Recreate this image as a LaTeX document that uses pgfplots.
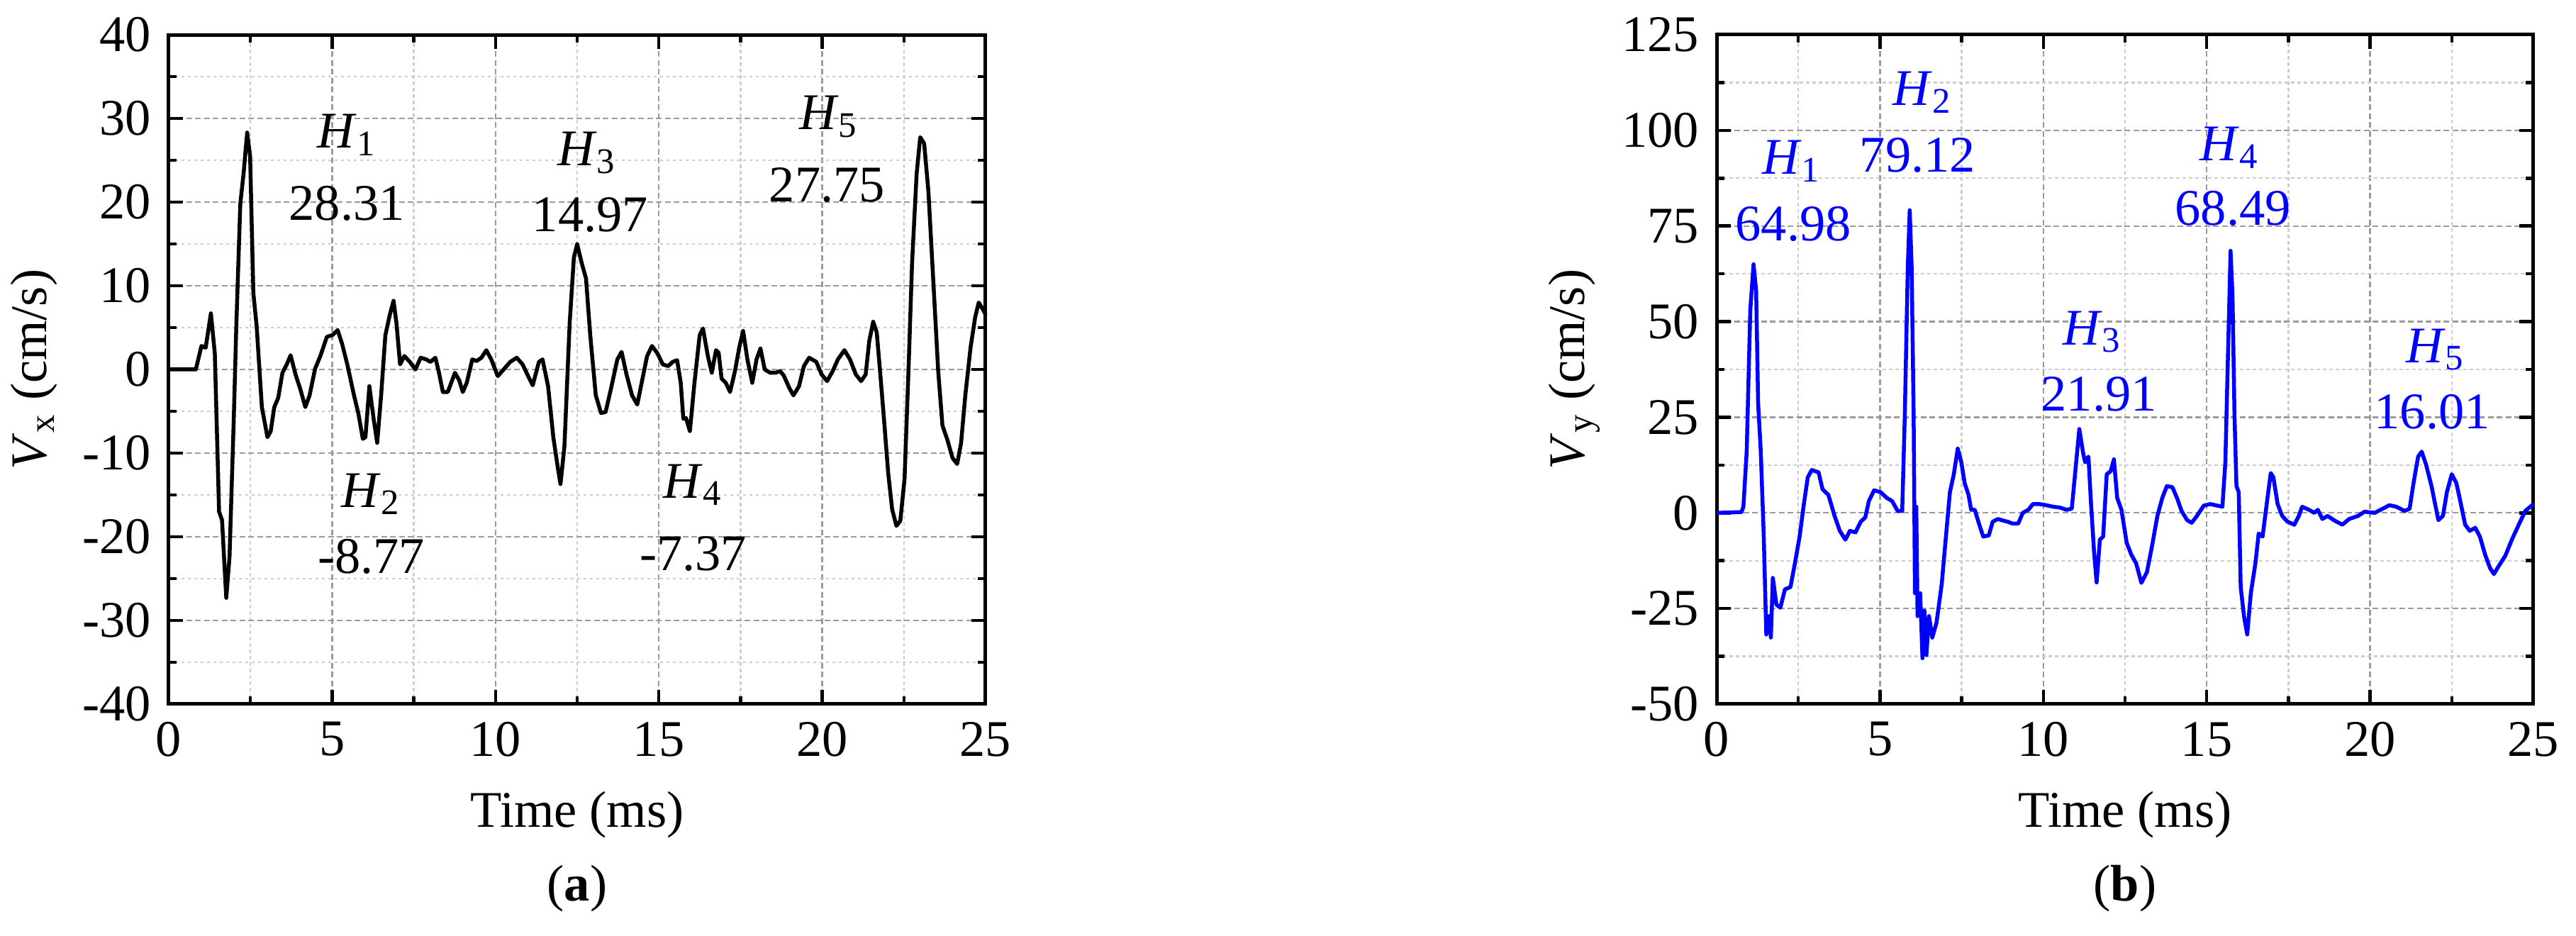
\documentclass[border=0pt]{standalone}
\usepackage{fontspec}
\setmainfont{Liberation Serif}
\usepackage{pgfplots}
\pgfplotsset{compat=1.18}
\definecolor{majgrid}{RGB}{155,155,155}
\definecolor{mingrid}{RGB}{205,205,205}
\definecolor{pblue}{RGB}{0,0,255}
\pgfplotsset{myax/.style={
  scale only axis, width=230.4pt, height=188.8pt,
  xmin=0, xmax=25, xtick={0,5,...,25}, minor x tick num=1,
  minor y tick num=1,
  tick align=inside, major tick length=4pt, minor tick length=2.2pt,
  every tick/.style={line width=0.9pt, black},
  axis line style={line width=1pt},
  grid=both,
  major grid style={line width=0.45pt, majgrid, dash pattern=on 1.6pt off 0.9pt},
  minor grid style={line width=0.45pt, mingrid, dash pattern=on 0.9pt off 0.9pt},
  /pgf/number format/assume math mode=true,
  tick label style={font=\fontsize{14.5pt}{17pt}\selectfont},
  label style={font=\fontsize{14.5pt}{17pt}\selectfont},
  xlabel={Time (ms)},
  clip=false,
}}
\begin{document}
\fontsize{14.5pt}{17pt}\selectfont
\begin{tikzpicture}
\path[use as bounding box] (-47.6pt,-65.4pt) rectangle (679pt,198.6pt);
\begin{axis}[myax, name=L, at={(0pt,0pt)}, anchor=south west,
  ymin=-40, ymax=40, ytick={-40,-30,...,40},
  ylabel={\textit{V}\textsubscript{x} (cm/s)},
  ylabel style={at={(axis description cs:-0.165,0.5)}, anchor=center}]
\addplot[black, line width=1.1pt, line join=round] coordinates {
(0,0) (0.83,0) (1.0,2.8) (1.13,2.6) (1.29,6.7) (1.41,1.9) (1.54,-17) (1.63,-18) (1.76,-27.3) (1.86,-22.4) (1.99,-5.9) (2.07,5.5) (2.19,19.8) (2.29,23.4) (2.40,28.31) (2.49,25.5) (2.59,9.1) (2.69,5.2) (2.85,-4.5) (3.02,-8.1) (3.12,-7.4) (3.23,-4.5) (3.35,-3.4) (3.48,-0.4) (3.60,0.5) (3.73,1.7) (3.88,-0.6) (4.03,-2.4) (4.18,-4.5) (4.31,-3.1) (4.48,0.1) (4.64,1.6) (4.84,3.9) (5.01,4.1) (5.17,4.7) (5.31,3.0) (5.47,0.5) (5.67,-3.1) (5.80,-5.2) (5.94,-8.3) (6.02,-8.1) (6.14,-2.0) (6.27,-5.9) (6.38,-8.77) (6.50,-3.1) (6.63,4.1) (6.77,6.6) (6.88,8.2) (6.97,5.5) (7.08,0.6) (7.21,1.6) (7.38,0.9) (7.55,0) (7.71,1.4) (7.88,1.2) (8.01,0.9) (8.16,1.4) (8.26,-0.2) (8.39,-2.7) (8.54,-2.7) (8.76,-0.4) (8.89,-1.3) (9.0,-2.7) (9.12,-1.6) (9.29,1.2) (9.42,1.0) (9.57,1.4) (9.72,2.3) (9.87,1.2) (10.07,-0.8) (10.25,0) (10.45,0.9) (10.65,1.4) (10.83,0.6) (11.0,-0.8) (11.14,-1.9) (11.33,0.9) (11.44,1.2) (11.61,-2.0) (11.77,-8.1) (11.91,-11.8) (11.99,-13.7) (12.11,-9.2) (12.27,5.5) (12.40,13.4) (12.50,14.97) (12.64,12.7) (12.77,10.9) (12.90,4.1) (13.07,-3.1) (13.23,-5.2) (13.37,-5.1) (13.53,-2.4) (13.73,1.2) (13.86,2.1) (14.01,-0.6) (14.18,-3.1) (14.34,-4.2) (14.51,-0.9) (14.64,1.6) (14.79,2.8) (14.96,1.9) (15.12,0.6) (15.29,0.4) (15.42,0.9) (15.56,1.1) (15.67,-1.6) (15.75,-5.9) (15.83,-5.8) (15.95,-7.37) (16.09,-1.6) (16.25,4.1) (16.35,4.9) (16.50,1.6) (16.62,-0.4) (16.75,2.3) (16.83,2.0) (16.92,-1.1) (17.05,-1.6) (17.18,-2.7) (17.33,-0.2) (17.46,2.6) (17.58,4.6) (17.71,1.2) (17.86,-1.6) (17.99,1.2) (18.11,2.5) (18.24,0) (18.41,-0.4) (18.57,-0.4) (18.71,-0.2) (18.82,-0.7) (18.99,-2.2) (19.12,-3.1) (19.29,-2.0) (19.44,0.4) (19.60,1.4) (19.82,0.9) (19.98,-0.6) (20.15,-1.4) (20.32,-0.2) (20.48,1.2) (20.68,2.3) (20.85,1.2) (21.03,-0.6) (21.19,-1.4) (21.33,-0.6) (21.44,3.4) (21.56,5.7) (21.67,4.4) (21.77,-0.2) (21.89,-5.9) (22.02,-12.4) (22.14,-16.7) (22.27,-18.7) (22.39,-18.1) (22.52,-13.1) (22.64,-0.2) (22.75,12.7) (22.89,23.4) (23.0,27.75) (23.12,27.0) (23.25,21.3) (23.38,12.0) (23.55,-0.2) (23.68,-6.7) (23.83,-8.4) (23.99,-10.6) (24.13,-11.3) (24.25,-8.8) (24.38,-3.1) (24.54,2.6) (24.68,6.2) (24.79,8.0) (24.96,6.9) (25,6.5)
};
\node at (axis cs:5.45,28) {\textit{H}\textsubscript{1}};
\node at (axis cs:5.45,19.8) {28.31};
\node at (axis cs:12.8,25.9) {\textit{H}\textsubscript{3}};
\node at (axis cs:12.9,18.5) {14.97};
\node at (axis cs:20.2,30.2) {\textit{H}\textsubscript{5}};
\node at (axis cs:20.15,22) {27.75};
\node at (axis cs:6.2,-14.9) {\textit{H}\textsubscript{2}};
\node at (axis cs:6.2,-22.4) {-8.77};
\node at (axis cs:16.05,-13.8) {\textit{H}\textsubscript{4}};
\node at (axis cs:16.05,-22) {-7.37};
\end{axis}
\node at ([yshift=-52pt]L.south) {(\textbf{a})};
\begin{axis}[myax, name=R, at={(436.6pt,0pt)}, anchor=south west,
  ymin=-50, ymax=125, ytick={-50,-25,...,125},
  ylabel={\textit{V}\textsubscript{y} (cm/s)},
  ylabel style={at={(axis description cs:-0.174,0.5)}, anchor=center}]
\addplot[pblue, line width=1.1pt, line join=round] coordinates {
(0,0) (0.76,0.2) (0.82,1.6) (0.92,16) (1.03,53) (1.13,64.98) (1.21,58) (1.27,28.7) (1.35,16.3) (1.44,-5.4) (1.52,-31.8) (1.60,-27) (1.66,-32.6) (1.72,-17) (1.83,-24) (1.95,-24.8) (2.09,-20) (2.26,-19.4) (2.40,-13) (2.54,-6.2) (2.67,2.3) (2.79,9.3) (2.91,11.2) (3.12,10.6) (3.24,6.2) (3.42,4.7) (3.61,-0.8) (3.77,-4.7) (3.94,-7.0) (4.08,-4.7) (4.25,-5.1) (4.41,-2.3) (4.55,-1.2) (4.66,3.1) (4.82,5.9) (5.02,5.4) (5.21,3.9) (5.37,3.1) (5.54,0.5) (5.68,0.5) (5.76,25.6) (5.85,64) (5.91,79.12) (5.97,64) (6.03,25.6) (6.07,-21) (6.11,1.6) (6.15,-27) (6.23,-21) (6.30,-38) (6.36,-25.6) (6.42,-37.2) (6.50,-27) (6.60,-32.6) (6.73,-28.7) (6.89,-18.6) (7.01,-7.0) (7.14,5.4) (7.26,10.1) (7.38,16.8) (7.49,13.2) (7.59,7.8) (7.71,4.7) (7.79,0.8) (7.90,0.8) (8.04,-3.1) (8.16,-6.2) (8.33,-5.9) (8.45,-2.3) (8.61,-1.6) (8.76,-2.0) (8.90,-2.3) (9.06,-2.8) (9.23,-2.8) (9.37,0) (9.54,0.8) (9.68,2.3) (9.88,2.3) (10.09,2.0) (10.30,1.6) (10.50,1.4) (10.71,0.8) (10.87,1.1) (10.97,10.1) (11.10,21.91) (11.22,15.5) (11.28,13.2) (11.38,14.7) (11.46,2.3) (11.55,-10) (11.63,-18.2) (11.73,-7.0) (11.83,-6.2) (11.94,10.1) (12.06,10.9) (12.16,14.0) (12.26,3.9) (12.39,0.8) (12.55,-7.8) (12.69,-10.9) (12.84,-13.2) (13.0,-18.3) (13.17,-15.5) (13.33,-8.5) (13.49,-0.8) (13.64,3.9) (13.78,7.0) (13.95,6.7) (14.09,3.9) (14.23,0.5) (14.40,-1.9) (14.54,-2.6) (14.70,-0.8) (14.91,1.9) (15.11,2.3) (15.32,1.9) (15.48,1.6) (15.57,13.2) (15.65,41) (15.73,68.49) (15.79,56.6) (15.85,25.6) (15.91,7.0) (15.98,5.4) (16.04,-19.4) (16.14,-27) (16.24,-31.8) (16.35,-21) (16.49,-13.2) (16.59,-5.4) (16.71,-6.2) (16.86,3.9) (16.96,10.4) (17.04,9.3) (17.17,2.3) (17.31,-0.8) (17.47,-2.3) (17.68,-3.1) (17.82,-0.8) (17.92,1.6) (18.13,0.8) (18.29,0) (18.40,0.8) (18.54,-1.6) (18.70,-0.8) (18.91,-2.0) (19.15,-3.1) (19.36,-1.6) (19.63,-0.8) (19.83,0.3) (20.14,0) (20.39,1.1) (20.59,2.0) (20.80,1.6) (21.06,0.5) (21.21,1.1) (21.33,7.8) (21.47,14.7) (21.58,16.01) (21.72,12.4) (21.88,7.0) (21.99,2.3) (22.09,-1.9) (22.23,-0.8) (22.35,5.4) (22.50,10.1) (22.64,7.8) (22.76,3.1) (22.91,-3.1) (23.05,-4.7) (23.22,-3.9) (23.36,-6.2) (23.52,-10.9) (23.67,-14.4) (23.79,-16.0) (23.93,-14.0) (24.14,-11.2) (24.34,-7.0) (24.55,-3.1) (24.75,0.5) (25.0,2.3)
};
\node[pblue] at (axis cs:2.3,92) {\textit{H}\textsubscript{1}};
\node[pblue] at (axis cs:2.35,75.6) {64.98};
\node[pblue] at (axis cs:6.3,110) {\textit{H}\textsubscript{2}};
\node[pblue] at (axis cs:6.15,93.4) {79.12};
\node[pblue] at (axis cs:11.5,47.3) {\textit{H}\textsubscript{3}};
\node[pblue] at (axis cs:11.7,31) {21.91};
\node[pblue] at (axis cs:15.7,95.4) {\textit{H}\textsubscript{4}};
\node[pblue] at (axis cs:15.8,79.6) {68.49};
\node[pblue] at (axis cs:22.0,42.7) {\textit{H}\textsubscript{5}};
\node[pblue] at (axis cs:21.9,26.4) {16.01};
\end{axis}
\node at ([yshift=-52pt]R.south) {(\textbf{b})};
\end{tikzpicture}
\end{document}
